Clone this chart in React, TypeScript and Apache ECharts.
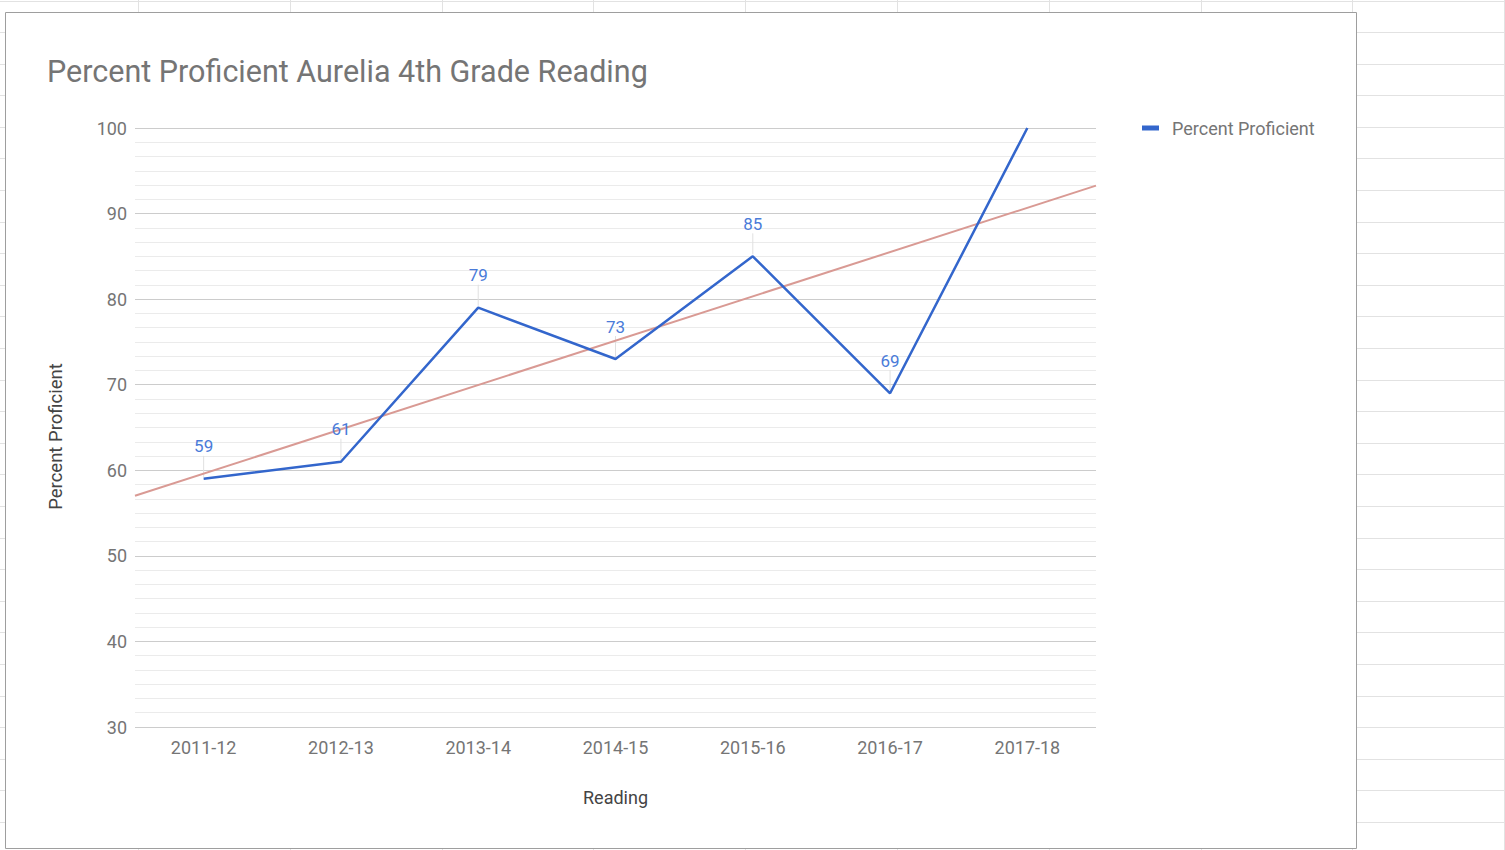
import React, { useEffect, useRef } from "react";
import * as echarts from "echarts";

const titleText = "Percent Proficient Aurelia 4th Grade Reading";
const seriesName = "Percent Proficient";
const xAxisTitle = "Reading";
const yAxisTitle = "Percent Proficient";
const categories = ["2011-12", "2012-13", "2013-14", "2014-15", "2015-16", "2016-17", "2017-18"];
const proficiency = [59, 61, 79, 73, 85, 69, 100];
const labelledPoints = [true, true, true, true, true, true, false];
const yMin = 30;
const yMax = 100;
const yInterval = 10;

// least-squares trendline from the data
function trend() {
  const n = proficiency.length;
  const mx = (n - 1) / 2;
  const my = proficiency.reduce((a, b) => a + b, 0) / n;
  let sxy = 0, sxx = 0;
  proficiency.forEach((v, i) => { sxy += (i - mx) * (v - my); sxx += (i - mx) * (i - mx); });
  const slope = sxy / sxx;
  const f = (x: number) => my + slope * (x - mx);
  return [[-0.5, f(-0.5)], [n - 0.5, f(n - 0.5)]];
}

const FONT = "Roboto, Arial, sans-serif";

export default function App() {
  const ref = useRef<HTMLDivElement>(null);
  useEffect(() => {
    if (!ref.current) return;
    const chart = echarts.init(ref.current, null, { renderer: "svg" });

    const W = 1505, H = 850;
    const sheet: any[] = [];
    const gridColor = "#e2e2e2";
    sheet.push({ type: "line", z: -20, shape: { x1: 0, y1: 1.5, x2: W, y2: 1.5 }, style: { stroke: gridColor, lineWidth: 1 } });
    for (let k = 0; k < 26; k++) {
      const y = Math.round(32 + k * 31.6) + 0.5;
      sheet.push({ type: "line", z: -20, shape: { x1: 0, y1: y, x2: W, y2: y }, style: { stroke: gridColor, lineWidth: 1 } });
    }
    for (let k = 0; k < 10; k++) {
      const x = Math.round(138 + k * 151.8) + 0.5;
      sheet.push({ type: "line", z: -20, shape: { x1: x, y1: 0, x2: x, y2: H }, style: { stroke: gridColor, lineWidth: 1 } });
    }
    sheet.push({ type: "rect", z: -10, shape: { x: 5.5, y: 12.5, width: 1351, height: 836 }, style: { fill: "#ffffff", stroke: "#9e9e9e", lineWidth: 1 } });

    const seriesData = proficiency.map((v, i) => ({
      value: v,
      label: { show: labelledPoints[i] },
    }));
    const leaderData = proficiency.map((v, i) => [i, v, labelledPoints[i] ? 1 : 0]);

    chart.setOption({
      animation: false,
      backgroundColor: "#ffffff",
      graphic: sheet,
      title: {
        text: titleText,
        left: 47,
        top: 56,
        padding: 0,
        textStyle: { fontFamily: FONT, fontSize: 30.5, fontWeight: "normal", color: "#757575" },
      },
      legend: {
        show: true,
        left: 1142,
        top: 119,
        padding: 0,
        icon: "rect",
        itemWidth: 17,
        itemHeight: 5,
        data: [seriesName],
        textStyle: { fontFamily: FONT, fontSize: 18, color: "#757575", padding: [0, 0, 0, 8] },
      },
      grid: { left: 135, right: 409, top: 128, bottom: 123 },
      xAxis: [
        {
          type: "category",
          data: categories,
          boundaryGap: true,
          name: xAxisTitle,
          nameLocation: "middle",
          nameGap: 61,
          nameTextStyle: { fontFamily: FONT, fontSize: 18, color: "#444444" },
          axisLine: { show: false },
          axisTick: { show: false },
          axisLabel: { fontFamily: FONT, fontSize: 18, color: "#757575", margin: 11 },
        },
        {
          type: "value",
          min: -0.5,
          max: categories.length - 0.5,
          show: false,
        },
      ],
      yAxis: {
        type: "value",
        min: yMin,
        max: yMax,
        interval: yInterval,
        name: yAxisTitle,
        nameLocation: "middle",
        nameGap: 70,
        nameTextStyle: { fontFamily: FONT, fontSize: 18.5, color: "#444444", padding: [0, 18, 0, 0] },
        axisLine: { show: false },
        axisTick: { show: false },
        axisLabel: { fontFamily: FONT, fontSize: 18, color: "#757575", margin: 8 },
        splitLine: { show: true, lineStyle: { color: "#cccccc", width: 1 } },
        minorTick: { show: false, splitNumber: 6 },
        minorSplitLine: { show: true, lineStyle: { color: "#ebebeb", width: 1 } },
      },
      series: [
        {
          type: "line",
          xAxisIndex: 1,
          data: trend(),
          showSymbol: false,
          symbol: "none",
          silent: true,
          lineStyle: { color: "#d99a94", width: 2 },
          z: 3,
          legendHoverLink: false,
        },
        {
          type: "custom",
          xAxisIndex: 0,
          data: leaderData,
          z: 2,
          silent: true,
          renderItem: (params: any, api: any) => {
            if (!api.value(2)) return null;
            const p = api.coord([api.value(0), api.value(1)]);
            return {
              type: "line",
              shape: { x1: p[0], y1: p[1] - 23, x2: p[0], y2: p[1] - 2 },
              style: { stroke: "#e0e0e0", lineWidth: 1 },
            };
          },
        },
        {
          name: seriesName,
          type: "line",
          xAxisIndex: 0,
          data: seriesData,
          showSymbol: true,
          symbol: "circle",
          symbolSize: 0,
          color: "#3366cc",
          lineStyle: { color: "#3366cc", width: 2.5 },
          z: 4,
          label: {
            show: true,
            position: "top",
            distance: 24,
            fontFamily: FONT,
            fontSize: 17,
            color: "#4a7bd9",
          },
        },
      ],
    });
    return () => chart.dispose();
  }, []);
  return <div ref={ref} style={{ position: "absolute", left: 0, top: 0, width: 1505, height: 850 }} />;
}
